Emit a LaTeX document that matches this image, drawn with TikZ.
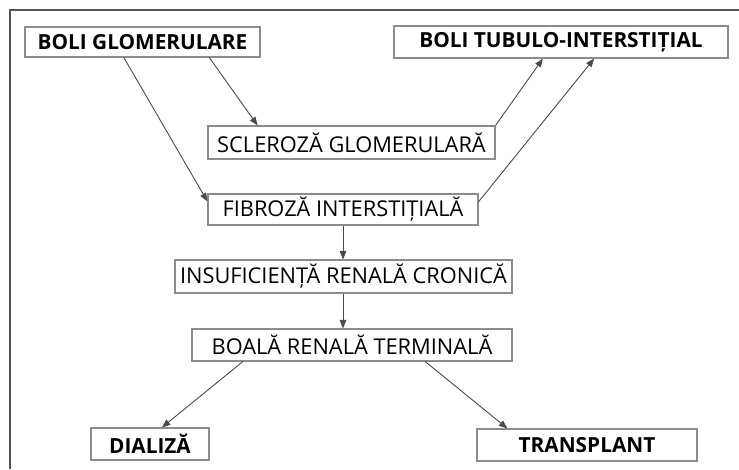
\documentclass[tikz,border=0pt]{standalone}
\usepackage{fontspec}
\setmainfont{Open Sans}
\usetikzlibrary{calc,arrows.meta}
\definecolor{boxline}{HTML}{8C8C8C}
\definecolor{arrowline}{HTML}{4A4A4A}
\definecolor{frameline}{HTML}{555555}
\tikzset{
  box/.style={draw=boxline, line width=1.1pt, fill=white, inner sep=0pt, font=\fontsize{21.8}{24}\selectfont, text=black},
  bbox/.style={box, font=\fontsize{20.8}{24}\selectfont\bfseries},
  arr/.style={draw=arrowline, line width=0.9pt, -{Triangle[length=8.5pt,width=6.5pt]}},
}
\begin{document}
\begin{tikzpicture}[x=1pt,y=-1pt]
\useasboundingbox (0,0) rectangle (739,469);
\coordinate (fbl) at (10,469);
\coordinate (ftl) at (10,10);
\coordinate (ftr) at (739,10);
\draw[frameline, line width=1.6pt] (fbl) -- (ftl) -- (ftr);

\node[bbox, minimum width=235pt, minimum height=30pt] (bg) at (142.5,42) {BOLI GLOMERULARE};
\node[bbox, minimum width=334pt, minimum height=32pt] (bti) at (561,42) {BOLI TUBULO-INTERSTIȚIAL};
\node[box, minimum width=287pt, minimum height=33pt] (sg) at (351.5,142.5) {SCLEROZĂ GLOMERULARĂ};
\node[box, minimum width=270pt, minimum height=31pt] (fi) at (343,209.5) {FIBROZĂ INTERSTIȚIALĂ};
\node[box, minimum width=337pt, minimum height=33pt] (irc) at (343.5,276.5) {INSUFICIENȚĂ RENALĂ CRONICĂ};
\node[box, minimum width=320pt, minimum height=32pt] (brt) at (352,345) {BOALĂ RENALĂ TERMINALĂ};
\node[bbox, minimum width=118pt, minimum height=32pt] (dia) at (150,444) {DIALIZĂ};
\node[bbox, minimum width=220pt, minimum height=32pt] (tr) at (587,445) {TRANSPLANT};

\draw[arr] ($(bg.south west)!0.783!(bg.south east)$) -- ($(sg.north west)!0.174!(sg.north east)$);
\draw[arr] ($(bg.south west)!0.421!(bg.south east)$) -- ($(fi.north west)!0.25!(fi.south west)$);
\draw[arr] (sg.north east) -- ($(bti.south west)!0.446!(bti.south east)$);
\draw[arr] ($(fi.north east)!0.26!(fi.south east)$) -- ($(bti.south west)!0.599!(bti.south east)$);
\draw[arr] (fi.south) -- (fi.south |- irc.north);
\draw[arr] (fi.south |- irc.south) -- (fi.south |- brt.north);
\draw[arr] ($(brt.south west)!0.16!(brt.south east)$) -- ($(dia.north west)!0.6!(dia.north east)$);
\draw[arr] ($(brt.south west)!0.728!(brt.south east)$) -- ($(tr.north west)!0.14!(tr.north east)$);
\end{tikzpicture}
\end{document}
